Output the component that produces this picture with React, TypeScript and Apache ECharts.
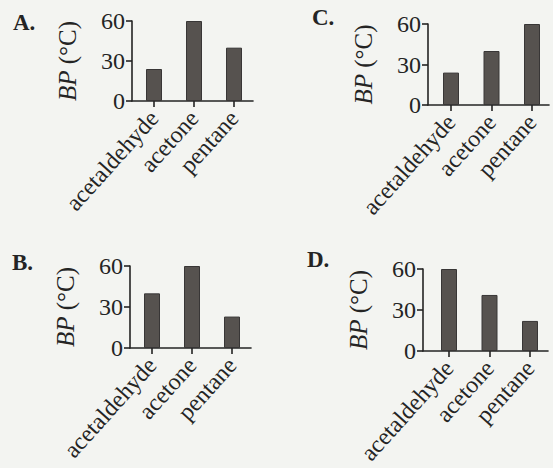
import React, { useEffect, useRef } from "react";
import * as echarts from "echarts";

// ---- data ----
const categories = ["acetaldehyde", "acetone", "pentane"];
const panelLabels = ["A.", "B.", "C.", "D."];
const valuesA = [24, 60, 40];
const valuesB = [40, 60, 23];
const valuesC = [24, 40, 60];
const valuesD = [60, 41, 22];
const yTicks = [0, 30, 60];

// ---- layout (page pixels) ----
const layouts = [
  { axisX: 132, right: 253, top: 21, bottom: 101, c0: 154, sp: 40, lx: 13, ly: 28 },
  { axisX: 130, right: 251, top: 266, bottom: 348, c0: 152, sp: 40, lx: 12, ly: 268 },
  { axisX: 428, right: 549, top: 24, bottom: 105, c0: 451, sp: 40.5, lx: 312, ly: 23 },
  { axisX: 423, right: 548, top: 269, bottom: 351, c0: 449, sp: 40.5, lx: 307, ly: 265 },
];

const FONT = "'Liberation Serif', 'DejaVu Serif', serif";
const INK = "#242424";
const FS = 24;

export default function App() {
  const ref = useRef<HTMLDivElement>(null);
  useEffect(() => {
    if (!ref.current) return;
    const chart = echarts.init(ref.current, undefined, { renderer: "svg" });
    const allValues = [valuesA, valuesB, valuesC, valuesD];
    const grids = layouts.map((l) => ({
      left: l.axisX,
      top: l.top,
      width: l.right - l.axisX,
      height: l.bottom - l.top,
      containLabel: false,
    }));
    const idx = categories.map((_, i) => i);
    const xAxes = layouts.map((l, k) => ({
      type: "value",
      gridIndex: k,
      min: (l.axisX - l.c0) / l.sp,
      max: categories.length - 1 + (l.right - (l.c0 + l.sp * (categories.length - 1))) / l.sp,
      splitLine: { show: false },
      axisLine: { show: true, onZero: false, lineStyle: { color: INK, width: 1.6 } },
      axisTick: { show: true, customValues: idx, length: 6, lineStyle: { color: INK, width: 1.6 } },
      axisLabel: {
        customValues: idx,
        formatter: (v: number) => categories[Math.round(v)] ?? "",
        rotate: 48,
        margin: 13,
        fontFamily: FONT,
        fontSize: FS,
        color: INK,
      },
    }));
    const yAxes = layouts.map((l, k) => ({
      type: "value",
      gridIndex: k,
      min: yTicks[0],
      max: yTicks[yTicks.length - 1],
      interval: yTicks[1] - yTicks[0],
      splitLine: { show: false },
      axisLine: { show: true, onZero: false, lineStyle: { color: INK, width: 1.6 } },
      axisTick: { show: true, length: 6, lineStyle: { color: INK, width: 1.6 } },
      axisLabel: { fontFamily: FONT, fontSize: FS, color: INK, margin: 7 },
      name: "{i|BP} (°C)",
      nameLocation: "middle",
      nameRotate: 90,
      nameGap: 52,
      nameTextStyle: {
        fontFamily: FONT,
        fontSize: FS + 1,
        color: INK,
        rich: { i: { fontFamily: FONT, fontSize: FS + 1, fontStyle: "italic", color: INK } },
      },
    }));
    const series = allValues.map((vals, k) => ({
      type: "bar",
      xAxisIndex: k,
      yAxisIndex: k,
      barWidth: 16,
      data: vals.map((v, i) => [i, v]),
      itemStyle: { color: "#56524f", borderColor: "#383636", borderWidth: 1 },
    }));
    const graphic = layouts.map((l, k) => ({
      type: "text",
      left: l.lx,
      top: l.ly - 17,
      style: {
        text: panelLabels[k],
        font: `bold 23px ${FONT}`,
        fill: INK,
      },
    }));
    chart.setOption({
      animation: false,
      backgroundColor: "#f3f4f1",
      grid: grids,
      xAxis: xAxes,
      yAxis: yAxes,
      series,
      graphic,
    });
    return () => chart.dispose();
  }, []);
  return (
    <div
      ref={ref}
      style={{ position: "fixed", left: 0, top: 0, width: 553, height: 468 }}
    />
  );
}
